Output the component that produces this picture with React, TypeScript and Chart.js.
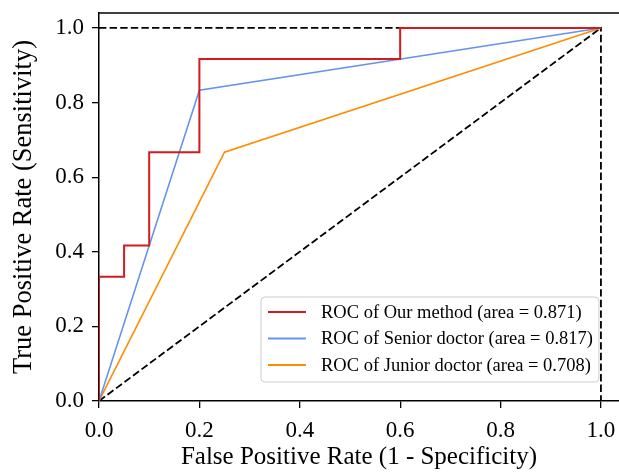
import React, { useEffect, useRef } from "react";
import { Chart, registerables } from "chart.js";

Chart.register(...registerables);

// ---- data ----
const ourFpr = [0, 0, 0.05, 0.05, 0.1, 0.1, 0.2, 0.2, 0.6, 0.6, 1];
const ourTpr = [0, 0.333, 0.333, 0.417, 0.417, 0.667, 0.667, 0.917, 0.917, 1, 1];
const seniorFpr = [0, 0.2, 1];
const seniorTpr = [0, 0.833, 1];
const juniorFpr = [0, 0.25, 1];
const juniorTpr = [0, 0.667, 1];
const chanceFpr = [0, 1];
const chanceTpr = [0, 1];
const perfectFpr = [0, 1, 1];
const perfectTpr = [1, 1, 0];
const seriesLabels = [
  "ROC of Our method (area = 0.871)",
  "ROC of Senior doctor (area = 0.817)",
  "ROC of Junior doctor (area = 0.708)",
];
const tickValues = [0, 0.2, 0.4, 0.6, 0.8, 1.0];
const xTitle = "False Positive Rate (1 - Specificity)";
const yTitle = "True Positive Rate (Sensitivity)";

const COLORS = ["#d41a1c", "#6495ed", "#ff8c00"];
const SERIF = "'Liberation Serif', 'Times New Roman', serif";

const toPts = (xs: number[], ys: number[]) => xs.map((x, i) => ({ x, y: ys[i] }));

const frameAndLegend = {
  id: "frameAndLegend",
  afterDatasetsDraw(chart: any) {
    const { ctx, chartArea } = chart;
    ctx.save();
    // top frame line (right side lies outside the cropped picture)
    ctx.strokeStyle = "#000";
    ctx.lineWidth = 1.5;
    ctx.beginPath();
    ctx.moveTo(chartArea.left, chartArea.top);
    ctx.lineTo(chart.width, chartArea.top);
    ctx.stroke();

    // legend
    const xs = chart.scales.x;
    ctx.font = `18.5px ${SERIF}`;
    const textW = Math.max(...seriesLabels.map((l) => ctx.measureText(l).width));
    const padL = 7, handle = 38, gap = 15, padR = 6;
    const w = padL + handle + gap + textW + padR;
    const rowH = 26.5;
    const h = 85;
    const right = xs.getPixelForValue(1) - 2;
    const bottom = chartArea.bottom - 19;
    const left = right - w;
    const top = bottom - h;
    ctx.beginPath();
    const r = 4;
    ctx.moveTo(left + r, top);
    ctx.arcTo(right, top, right, bottom, r);
    ctx.arcTo(right, bottom, left, bottom, r);
    ctx.arcTo(left, bottom, left, top, r);
    ctx.arcTo(left, top, right, top, r);
    ctx.closePath();
    ctx.fillStyle = "rgba(255,255,255,0.9)";
    ctx.fill();
    ctx.strokeStyle = "#cccccc";
    ctx.lineWidth = 1;
    ctx.stroke();
    seriesLabels.forEach((lab, i) => {
      const cy = top + 15 + i * rowH;
      ctx.beginPath();
      ctx.strokeStyle = COLORS[i];
      ctx.lineWidth = 2;
      ctx.moveTo(left + padL, cy);
      ctx.lineTo(left + padL + handle, cy);
      ctx.stroke();
      ctx.fillStyle = "#000";
      ctx.textBaseline = "middle";
      ctx.textAlign = "left";
      ctx.fillText(lab, left + padL + handle + gap, cy + 1);
    });
    ctx.restore();
  },
};

export default function App() {
  const ref = useRef<HTMLCanvasElement>(null);
  useEffect(() => {
    if (!ref.current) return;
    const tickFont = { family: SERIF, size: 23 };
    const chart = new Chart(ref.current, {
      type: "line",
      data: {
        datasets: [
          { label: seriesLabels[0], data: toPts(ourFpr, ourTpr), borderColor: COLORS[0], borderWidth: 2, pointRadius: 0, tension: 0, fill: false },
          { label: seriesLabels[1], data: toPts(seniorFpr, seniorTpr), borderColor: COLORS[1], borderWidth: 1.6, pointRadius: 0, tension: 0, fill: false },
          { label: seriesLabels[2], data: toPts(juniorFpr, juniorTpr), borderColor: COLORS[2], borderWidth: 1.6, pointRadius: 0, tension: 0, fill: false },
          { label: "chance", data: toPts(chanceFpr, chanceTpr), borderColor: "#000", borderWidth: 1.8, borderDash: [7.4, 3.2], pointRadius: 0, fill: false },
          { label: "perfect", data: toPts(perfectFpr, perfectTpr), borderColor: "#000", borderWidth: 1.8, borderDash: [7.4, 3.2], pointRadius: 0, fill: false },
        ],
      },
      options: {
        responsive: false,
        animation: false,
        devicePixelRatio: 1,
        layout: { padding: { top: 13, right: 0, left: 0, bottom: 0 } },
        plugins: { legend: { display: false }, tooltip: { enabled: false } },
        scales: {
          x: {
            type: "linear",
            min: 0,
            max: 1.036,
            afterFit: (s: any) => { s.height = 75; s.paddingLeft = 0; s.paddingRight = 0; },
            afterBuildTicks: (s: any) => { s.ticks = tickValues.map((v) => ({ value: v })); },
            ticks: { font: tickFont, color: "#000", padding: 9, maxRotation: 0, autoSkip: false, callback: (v: any) => Number(v).toFixed(1) },
            grid: { display: true, drawOnChartArea: false, drawTicks: true, tickLength: 7, color: "#000", lineWidth: 1.3 },
            border: { display: true, color: "#000", width: 1.5 },
            title: { display: true, text: xTitle, font: { family: SERIF, size: 25 }, color: "#000", padding: { top: 0, bottom: 4 } },
          },
          y: {
            type: "linear",
            min: 0,
            max: 1.04,
            afterFit: (s: any) => { s.width = 99; s.paddingTop = 0; s.paddingBottom = 0; },
            afterBuildTicks: (s: any) => { s.ticks = tickValues.map((v) => ({ value: v })); },
            ticks: { font: tickFont, color: "#000", padding: 8, autoSkip: false, callback: (v: any) => Number(v).toFixed(1) },
            grid: { display: true, drawOnChartArea: false, drawTicks: true, tickLength: 7, color: "#000", lineWidth: 1.3 },
            border: { display: true, color: "#000", width: 1.5 },
            title: { display: true, text: yTitle, font: { family: SERIF, size: 26.5 }, color: "#000", padding: { top: 8, bottom: 0 } },
          },
        },
      },
      plugins: [frameAndLegend],
    } as any);
    return () => chart.destroy();
  }, []);
  return (
    <div style={{ position: "absolute", left: 0, top: 0, width: 619, height: 476, overflow: "hidden", background: "#fff" }}>
      <canvas ref={ref} width={619} height={476} style={{ display: "block", width: 619, height: 476 }} />
    </div>
  );
}
